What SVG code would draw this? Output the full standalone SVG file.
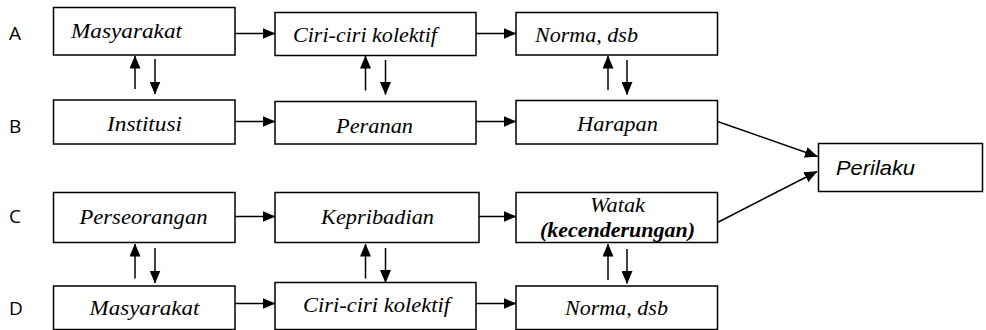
<svg xmlns="http://www.w3.org/2000/svg" width="986" height="330" viewBox="0 0 986 330">
<style>
.box{fill:#fff;stroke:#000;stroke-width:1.5}
.t{font-family:"Liberation Serif",serif;font-style:italic;font-size:21px;fill:#000}
.tb{font-family:"Liberation Serif",serif;font-style:italic;font-weight:bold;font-size:20px;fill:#000}
.ts{font-family:"Liberation Sans",sans-serif;font-style:italic;font-size:21px;fill:#000}
.lbl{font-family:"Open Sans",sans-serif;font-size:19px;fill:#000}
.c{stroke:#000;stroke-width:1.5;fill:none;marker-end:url(#ah)}
</style>
<defs>
<marker id="ah" markerUnits="userSpaceOnUse" markerWidth="13" markerHeight="11" refX="12.5" refY="5.5" orient="auto">
<path d="M0,0 L13,5.5 L0,11 z" fill="#000"/>
</marker>
</defs>
<g id="labels">
<text class="lbl" x="9" y="40">A</text>
<text class="lbl" x="9" y="133">B</text>
<text class="lbl" x="9" y="223">C</text>
<text class="lbl" x="9" y="315">D</text>
</g>
<g id="nA1"><rect class="box" x="53.5" y="7.5" width="181.5" height="47.5"/><text class="t" x="71" y="38" textLength="111" lengthAdjust="spacingAndGlyphs">Masyarakat</text></g>
<g id="nA2"><rect class="box" x="275" y="12.5" width="201" height="43"/><text class="t" x="293" y="42" textLength="144" lengthAdjust="spacingAndGlyphs">Ciri-ciri kolektif</text></g>
<g id="nA3"><rect class="box" x="516" y="12.5" width="201.5" height="42.5"/><text class="t" x="535" y="41.5" textLength="103" lengthAdjust="spacingAndGlyphs">Norma, dsb</text></g>
<g id="nB1"><rect class="box" x="53.5" y="100" width="181.5" height="44"/><text class="t" x="107" y="131" textLength="75" lengthAdjust="spacingAndGlyphs">Institusi</text></g>
<g id="nB2"><rect class="box" x="275" y="101.5" width="201" height="42.5"/><text class="t" x="336" y="132.5" textLength="77" lengthAdjust="spacingAndGlyphs">Peranan</text></g>
<g id="nB3"><rect class="box" x="516" y="100.5" width="201.5" height="43.5"/><text class="t" x="577" y="131" textLength="81" lengthAdjust="spacingAndGlyphs">Harapan</text></g>
<g id="nP"><rect class="box" x="818.5" y="143.5" width="164" height="48"/><text class="ts" x="836" y="175" textLength="79" lengthAdjust="spacingAndGlyphs">Perilaku</text></g>
<g id="nC1"><rect class="box" x="53.5" y="192.5" width="181.5" height="50"/><text class="t" x="79.5" y="223.5" textLength="128" lengthAdjust="spacingAndGlyphs">Perseorangan</text></g>
<g id="nC2"><rect class="box" x="275" y="192.5" width="204" height="50"/><text class="t" x="321" y="223.5" textLength="113" lengthAdjust="spacingAndGlyphs">Kepribadian</text></g>
<g id="nC3"><rect class="box" x="516" y="192.5" width="201.5" height="50"/><text class="t" x="590" y="212" font-size="17" textLength="55" lengthAdjust="spacingAndGlyphs">Watak</text><text class="tb" x="540" y="237" textLength="155" lengthAdjust="spacingAndGlyphs">(kecenderungan)</text></g>
<g id="nD1"><rect class="box" x="53.5" y="286" width="181.5" height="43.5"/><text class="t" x="89.5" y="315" textLength="110" lengthAdjust="spacingAndGlyphs">Masyarakat</text></g>
<g id="nD2"><rect class="box" x="275" y="282.5" width="201" height="47"/><text class="t" x="303" y="312" textLength="147" lengthAdjust="spacingAndGlyphs">Ciri-ciri kolektif</text></g>
<g id="nD3"><rect class="box" x="516" y="286" width="201.5" height="43.5"/><text class="t" x="565" y="315" textLength="103" lengthAdjust="spacingAndGlyphs">Norma, dsb</text></g>
<g id="connectors">
<line class="c" x1="235" y1="33.5" x2="275" y2="33.5"/>
<line class="c" x1="476" y1="33.5" x2="516" y2="33.5"/>
<line class="c" x1="235" y1="121.5" x2="275" y2="121.5"/>
<line class="c" x1="476" y1="121.5" x2="516" y2="121.5"/>
<line class="c" x1="235" y1="216.5" x2="275" y2="216.5"/>
<line class="c" x1="479" y1="216.5" x2="516" y2="216.5"/>
<line class="c" x1="235" y1="303.5" x2="275" y2="303.5"/>
<line class="c" x1="476" y1="303.5" x2="516" y2="303.5"/>
<line class="c" x1="135" y1="89" x2="135" y2="56"/>
<line class="c" x1="155" y1="59" x2="155" y2="94"/>
<line class="c" x1="365.5" y1="90.5" x2="365.5" y2="56"/>
<line class="c" x1="385.5" y1="60" x2="385.5" y2="94.5"/>
<line class="c" x1="608" y1="90" x2="608" y2="56"/>
<line class="c" x1="627" y1="60" x2="627" y2="94.5"/>
<line class="c" x1="135" y1="278.5" x2="135" y2="244"/>
<line class="c" x1="155" y1="248" x2="155" y2="283"/>
<line class="c" x1="365.5" y1="278.5" x2="365.5" y2="244"/>
<line class="c" x1="385.5" y1="248" x2="385.5" y2="282.5"/>
<line class="c" x1="608" y1="280" x2="608" y2="244"/>
<line class="c" x1="627" y1="249" x2="627" y2="283.5"/>
<line class="c" x1="717.5" y1="121.5" x2="817.5" y2="156.5"/>
<line class="c" x1="717.5" y1="222.5" x2="817" y2="171.5"/>
</g>
</svg>
